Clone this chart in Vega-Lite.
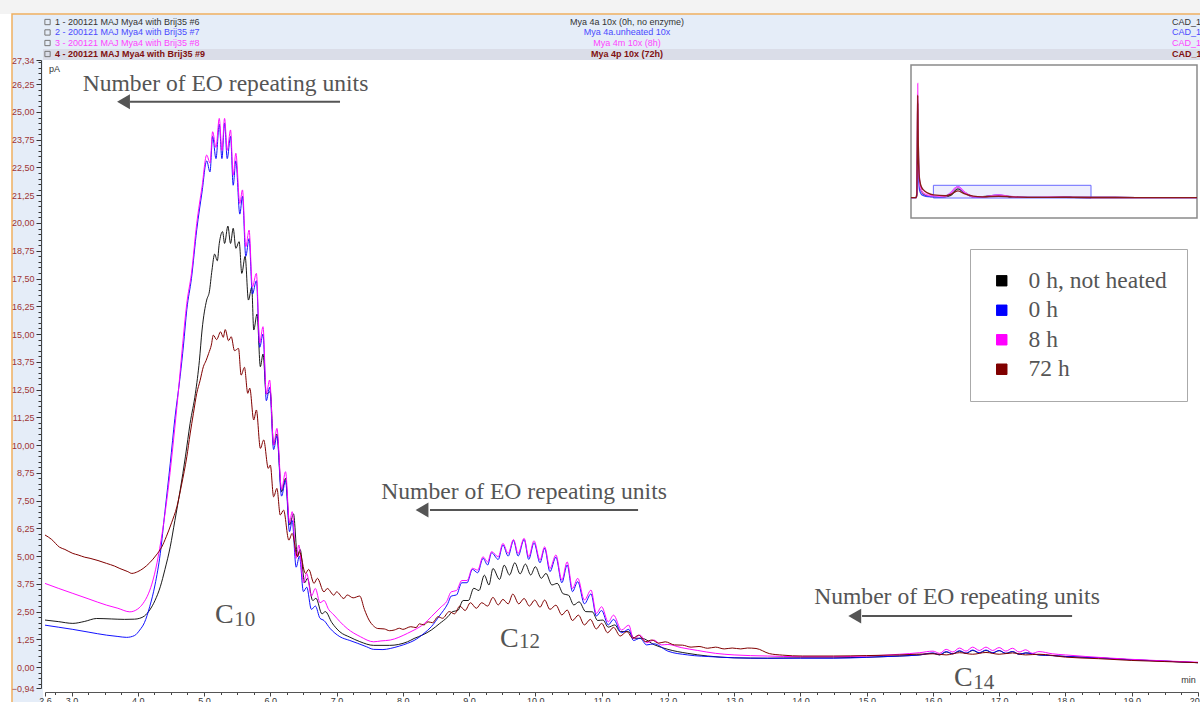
{
"$schema": "https://vega.github.io/schema/vega-lite/v6.json",
"width": 1153, "height": 628,
"autosize": {"type": "none"},
"padding": {"left": 45, "top": 60, "right": 2, "bottom": 14},
"background": "white",
"config": {"view": {"stroke": null}, "axis": {"labelOverlap": false}},
"datasets": {
"main": [
{"s":"a","t":2.6,"v":2.12},{"s":"a","t":2.8,"v":2.05},{"s":"a","t":3.02,"v":1.97},{"s":"a","t":3.2,"v":2.06},{"s":"a","t":3.38,"v":2.19},{"s":"a","t":3.6,"v":2.17},{"s":"a","t":3.8,"v":2.15},{"s":"a","t":3.95,"v":2.16},{"s":"a","t":4.03,"v":2.2},{"s":"a","t":4.1,"v":2.3},{"s":"a","t":4.18,"v":2.57},{"s":"a","t":4.26,"v":3.0},{"s":"a","t":4.34,"v":3.62},{"s":"a","t":4.41,"v":4.4},{"s":"a","t":4.49,"v":5.42},{"s":"a","t":4.56,"v":6.6},{"s":"a","t":4.64,"v":7.97},{"s":"a","t":4.72,"v":9.5},{"s":"a","t":4.79,"v":10.98},{"s":"a","t":4.87,"v":12.33},{"s":"a","t":4.93,"v":13.8},{"s":"a","t":4.97,"v":15.18},{"s":"a","t":5.04,"v":16.53},{"s":"a","t":5.08,"v":16.9},{"s":"a","t":5.12,"v":17.88},{"s":"a","t":5.16,"v":18.6},{"s":"a","t":5.2,"v":18.3},{"s":"a","t":5.23,"v":19.08},{"s":"a","t":5.28,"v":19.61},{"s":"a","t":5.31,"v":19.08},{"s":"a","t":5.36,"v":19.86},{"s":"a","t":5.4,"v":19.08},{"s":"a","t":5.44,"v":19.76},{"s":"a","t":5.48,"v":18.86},{"s":"a","t":5.53,"v":19.16},{"s":"a","t":5.57,"v":17.73},{"s":"a","t":5.62,"v":18.5},{"s":"a","t":5.67,"v":16.53},{"s":"a","t":5.72,"v":17.1},{"s":"a","t":5.75,"v":15.18},{"s":"a","t":5.8,"v":15.9},{"s":"a","t":5.85,"v":13.53},{"s":"a","t":5.89,"v":14.1},{"s":"a","t":5.94,"v":12.3},{"s":"a","t":6.0,"v":12.4},{"s":"a","t":6.05,"v":10.0},{"s":"a","t":6.1,"v":10.5},{"s":"a","t":6.17,"v":7.9},{"s":"a","t":6.23,"v":8.5},{"s":"a","t":6.29,"v":6.4},{"s":"a","t":6.35,"v":6.9},{"s":"a","t":6.41,"v":5.0},{"s":"a","t":6.45,"v":5.3},{"s":"a","t":6.52,"v":3.8},{"s":"a","t":6.56,"v":4.0},{"s":"a","t":6.64,"v":3.0},{"s":"a","t":6.69,"v":3.1},{"s":"a","t":6.78,"v":2.4},{"s":"a","t":6.83,"v":2.5},{"s":"a","t":6.93,"v":2.0},{"s":"a","t":7.05,"v":1.59},{"s":"a","t":7.2,"v":1.35},{"s":"a","t":7.35,"v":1.15},{"s":"a","t":7.56,"v":0.98},{"s":"a","t":7.8,"v":0.98},{"s":"a","t":8.07,"v":1.14},{"s":"a","t":8.17,"v":1.29},{"s":"a","t":8.3,"v":1.45},{"s":"a","t":8.43,"v":1.67},{"s":"a","t":8.55,"v":1.95},{"s":"a","t":8.68,"v":2.27},{"s":"a","t":8.75,"v":2.5},{"s":"a","t":8.83,"v":2.55},{"s":"a","t":8.91,"v":3.0},{"s":"a","t":8.99,"v":3.0},{"s":"a","t":9.07,"v":3.55},{"s":"a","t":9.15,"v":3.45},{"s":"a","t":9.23,"v":4.14},{"s":"a","t":9.3,"v":3.7},{"s":"a","t":9.36,"v":4.44},{"s":"a","t":9.46,"v":3.95},{"s":"a","t":9.53,"v":4.59},{"s":"a","t":9.61,"v":4.15},{"s":"a","t":9.69,"v":4.7},{"s":"a","t":9.77,"v":4.2},{"s":"a","t":9.85,"v":4.64},{"s":"a","t":9.93,"v":4.15},{"s":"a","t":10.0,"v":4.52},{"s":"a","t":10.09,"v":4.0},{"s":"a","t":10.16,"v":4.22},{"s":"a","t":10.25,"v":3.7},{"s":"a","t":10.33,"v":3.77},{"s":"a","t":10.42,"v":3.3},{"s":"a","t":10.5,"v":3.24},{"s":"a","t":10.58,"v":2.8},{"s":"a","t":10.66,"v":2.94},{"s":"a","t":10.76,"v":2.5},{"s":"a","t":10.86,"v":2.49},{"s":"a","t":10.94,"v":2.1},{"s":"a","t":11.02,"v":2.12},{"s":"a","t":11.1,"v":1.8},{"s":"a","t":11.2,"v":1.9},{"s":"a","t":11.28,"v":1.6},{"s":"a","t":11.4,"v":1.6},{"s":"a","t":11.5,"v":1.3},{"s":"a","t":11.6,"v":1.3},{"s":"a","t":11.8,"v":1.0},{"s":"a","t":12.0,"v":0.8},{"s":"a","t":12.3,"v":0.62},{"s":"a","t":12.6,"v":0.5},{"s":"a","t":13.0,"v":0.42},{"s":"a","t":13.5,"v":0.4},{"s":"a","t":14.0,"v":0.42},{"s":"a","t":14.5,"v":0.42},{"s":"a","t":15.0,"v":0.45},{"s":"a","t":15.5,"v":0.5},{"s":"a","t":15.8,"v":0.55},{"s":"a","t":16.0,"v":0.62},{"s":"a","t":16.1,"v":0.55},{"s":"a","t":16.2,"v":0.68},{"s":"a","t":16.3,"v":0.6},{"s":"a","t":16.4,"v":0.72},{"s":"a","t":16.5,"v":0.62},{"s":"a","t":16.6,"v":0.75},{"s":"a","t":16.7,"v":0.64},{"s":"a","t":16.8,"v":0.75},{"s":"a","t":16.9,"v":0.64},{"s":"a","t":17.0,"v":0.74},{"s":"a","t":17.1,"v":0.62},{"s":"a","t":17.2,"v":0.7},{"s":"a","t":17.3,"v":0.58},{"s":"a","t":17.4,"v":0.64},{"s":"a","t":17.6,"v":0.55},{"s":"a","t":17.8,"v":0.52},{"s":"a","t":18.0,"v":0.48},{"s":"a","t":18.5,"v":0.42},{"s":"a","t":19.0,"v":0.33},{"s":"a","t":19.5,"v":0.27},{"s":"a","t":20.0,"v":0.2},
{"s":"b","t":2.6,"v":1.89},{"s":"b","t":2.8,"v":1.8},{"s":"b","t":3.02,"v":1.7},{"s":"b","t":3.25,"v":1.58},{"s":"b","t":3.53,"v":1.44},{"s":"b","t":3.7,"v":1.38},{"s":"b","t":3.83,"v":1.34},{"s":"b","t":3.95,"v":1.42},{"s":"b","t":4.03,"v":1.67},{"s":"b","t":4.1,"v":2.0},{"s":"b","t":4.18,"v":2.72},{"s":"b","t":4.26,"v":3.7},{"s":"b","t":4.34,"v":5.12},{"s":"b","t":4.41,"v":7.0},{"s":"b","t":4.49,"v":9.17},{"s":"b","t":4.56,"v":11.2},{"s":"b","t":4.64,"v":13.1},{"s":"b","t":4.69,"v":14.5},{"s":"b","t":4.74,"v":16.1},{"s":"b","t":4.81,"v":17.5},{"s":"b","t":4.89,"v":19.7},{"s":"b","t":4.97,"v":21.4},{"s":"b","t":5.04,"v":22.8},{"s":"b","t":5.09,"v":22.3},{"s":"b","t":5.13,"v":23.9},{"s":"b","t":5.18,"v":22.9},{"s":"b","t":5.23,"v":24.45},{"s":"b","t":5.27,"v":22.9},{"s":"b","t":5.31,"v":24.5},{"s":"b","t":5.35,"v":22.9},{"s":"b","t":5.4,"v":23.9},{"s":"b","t":5.44,"v":21.7},{"s":"b","t":5.48,"v":22.8},{"s":"b","t":5.54,"v":20.4},{"s":"b","t":5.58,"v":21.2},{"s":"b","t":5.63,"v":18.5},{"s":"b","t":5.68,"v":19.3},{"s":"b","t":5.73,"v":16.8},{"s":"b","t":5.79,"v":17.4},{"s":"b","t":5.84,"v":14.4},{"s":"b","t":5.89,"v":15.0},{"s":"b","t":5.94,"v":12.0},{"s":"b","t":5.99,"v":12.6},{"s":"b","t":6.05,"v":9.8},{"s":"b","t":6.1,"v":10.4},{"s":"b","t":6.17,"v":7.7},{"s":"b","t":6.23,"v":8.4},{"s":"b","t":6.29,"v":6.1},{"s":"b","t":6.33,"v":6.6},{"s":"b","t":6.39,"v":4.5},{"s":"b","t":6.44,"v":5.0},{"s":"b","t":6.5,"v":3.4},{"s":"b","t":6.55,"v":3.6},{"s":"b","t":6.62,"v":2.6},{"s":"b","t":6.68,"v":2.75},{"s":"b","t":6.75,"v":2.2},{"s":"b","t":6.81,"v":2.1},{"s":"b","t":6.9,"v":1.75},{"s":"b","t":7.05,"v":1.37},{"s":"b","t":7.2,"v":1.2},{"s":"b","t":7.32,"v":1.07},{"s":"b","t":7.45,"v":0.92},{"s":"b","t":7.56,"v":0.8},{"s":"b","t":7.7,"v":0.79},{"s":"b","t":7.81,"v":0.84},{"s":"b","t":7.95,"v":0.95},{"s":"b","t":8.07,"v":1.07},{"s":"b","t":8.17,"v":1.2},{"s":"b","t":8.32,"v":1.52},{"s":"b","t":8.43,"v":1.82},{"s":"b","t":8.55,"v":2.3},{"s":"b","t":8.68,"v":2.87},{"s":"b","t":8.73,"v":3.2},{"s":"b","t":8.81,"v":3.25},{"s":"b","t":8.89,"v":3.8},{"s":"b","t":8.97,"v":3.8},{"s":"b","t":9.05,"v":4.4},{"s":"b","t":9.13,"v":4.25},{"s":"b","t":9.21,"v":4.9},{"s":"b","t":9.28,"v":4.6},{"s":"b","t":9.34,"v":5.15},{"s":"b","t":9.44,"v":4.85},{"s":"b","t":9.51,"v":5.5},{"s":"b","t":9.59,"v":5.0},{"s":"b","t":9.67,"v":5.7},{"s":"b","t":9.74,"v":5.0},{"s":"b","t":9.83,"v":5.75},{"s":"b","t":9.9,"v":4.85},{"s":"b","t":9.98,"v":5.6},{"s":"b","t":10.07,"v":4.7},{"s":"b","t":10.14,"v":5.35},{"s":"b","t":10.22,"v":4.3},{"s":"b","t":10.31,"v":4.95},{"s":"b","t":10.4,"v":3.8},{"s":"b","t":10.48,"v":4.6},{"s":"b","t":10.56,"v":3.4},{"s":"b","t":10.64,"v":3.85},{"s":"b","t":10.74,"v":2.85},{"s":"b","t":10.84,"v":3.3},{"s":"b","t":10.92,"v":2.3},{"s":"b","t":11.0,"v":2.55},{"s":"b","t":11.1,"v":1.9},{"s":"b","t":11.18,"v":2.15},{"s":"b","t":11.3,"v":1.55},{"s":"b","t":11.41,"v":1.7},{"s":"b","t":11.48,"v":1.2},{"s":"b","t":11.58,"v":1.3},{"s":"b","t":11.68,"v":1.0},{"s":"b","t":11.79,"v":1.05},{"s":"b","t":12.0,"v":0.72},{"s":"b","t":12.3,"v":0.55},{"s":"b","t":12.72,"v":0.46},{"s":"b","t":13.0,"v":0.42},{"s":"b","t":13.5,"v":0.4},{"s":"b","t":14.0,"v":0.4},{"s":"b","t":14.5,"v":0.4},{"s":"b","t":15.0,"v":0.44},{"s":"b","t":15.5,"v":0.5},{"s":"b","t":15.8,"v":0.55},{"s":"b","t":16.0,"v":0.64},{"s":"b","t":16.1,"v":0.56},{"s":"b","t":16.2,"v":0.7},{"s":"b","t":16.3,"v":0.6},{"s":"b","t":16.4,"v":0.74},{"s":"b","t":16.5,"v":0.63},{"s":"b","t":16.6,"v":0.77},{"s":"b","t":16.7,"v":0.65},{"s":"b","t":16.8,"v":0.77},{"s":"b","t":16.9,"v":0.65},{"s":"b","t":17.0,"v":0.75},{"s":"b","t":17.1,"v":0.62},{"s":"b","t":17.2,"v":0.7},{"s":"b","t":17.3,"v":0.58},{"s":"b","t":17.4,"v":0.64},{"s":"b","t":17.6,"v":0.55},{"s":"b","t":17.8,"v":0.52},{"s":"b","t":18.0,"v":0.48},{"s":"b","t":18.5,"v":0.42},{"s":"b","t":19.0,"v":0.33},{"s":"b","t":19.5,"v":0.27},{"s":"b","t":20.0,"v":0.2},
{"s":"c","t":2.6,"v":3.77},{"s":"c","t":2.8,"v":3.55},{"s":"c","t":3.02,"v":3.32},{"s":"c","t":3.25,"v":3.08},{"s":"c","t":3.53,"v":2.79},{"s":"c","t":3.7,"v":2.65},{"s":"c","t":3.88,"v":2.49},{"s":"c","t":4.0,"v":2.62},{"s":"c","t":4.08,"v":2.87},{"s":"c","t":4.16,"v":3.3},{"s":"c","t":4.23,"v":3.92},{"s":"c","t":4.31,"v":5.0},{"s":"c","t":4.39,"v":6.47},{"s":"c","t":4.47,"v":8.3},{"s":"c","t":4.54,"v":10.23},{"s":"c","t":4.61,"v":12.33},{"s":"c","t":4.67,"v":14.3},{"s":"c","t":4.74,"v":16.38},{"s":"c","t":4.81,"v":17.73},{"s":"c","t":4.89,"v":19.98},{"s":"c","t":4.97,"v":21.64},{"s":"c","t":5.04,"v":23.06},{"s":"c","t":5.09,"v":22.7},{"s":"c","t":5.13,"v":24.11},{"s":"c","t":5.18,"v":23.4},{"s":"c","t":5.23,"v":24.71},{"s":"c","t":5.27,"v":23.27},{"s":"c","t":5.31,"v":24.71},{"s":"c","t":5.35,"v":23.27},{"s":"c","t":5.4,"v":24.19},{"s":"c","t":5.44,"v":22.15},{"s":"c","t":5.48,"v":23.14},{"s":"c","t":5.54,"v":20.88},{"s":"c","t":5.58,"v":21.49},{"s":"c","t":5.63,"v":18.93},{"s":"c","t":5.68,"v":19.68},{"s":"c","t":5.73,"v":17.12},{"s":"c","t":5.79,"v":17.73},{"s":"c","t":5.84,"v":14.6},{"s":"c","t":5.89,"v":15.33},{"s":"c","t":5.94,"v":12.3},{"s":"c","t":5.99,"v":12.93},{"s":"c","t":6.05,"v":10.0},{"s":"c","t":6.1,"v":10.75},{"s":"c","t":6.17,"v":8.0},{"s":"c","t":6.23,"v":8.8},{"s":"c","t":6.29,"v":6.5},{"s":"c","t":6.33,"v":7.0},{"s":"c","t":6.39,"v":4.9},{"s":"c","t":6.43,"v":5.5},{"s":"c","t":6.5,"v":3.8},{"s":"c","t":6.55,"v":4.22},{"s":"c","t":6.62,"v":3.2},{"s":"c","t":6.68,"v":3.54},{"s":"c","t":6.75,"v":2.9},{"s":"c","t":6.81,"v":3.0},{"s":"c","t":6.88,"v":2.6},{"s":"c","t":6.96,"v":2.35},{"s":"c","t":7.05,"v":2.05},{"s":"c","t":7.16,"v":1.74},{"s":"c","t":7.36,"v":1.37},{"s":"c","t":7.56,"v":1.14},{"s":"c","t":7.67,"v":1.18},{"s":"c","t":7.81,"v":1.22},{"s":"c","t":8.07,"v":1.52},{"s":"c","t":8.17,"v":1.67},{"s":"c","t":8.32,"v":1.95},{"s":"c","t":8.43,"v":2.27},{"s":"c","t":8.58,"v":2.72},{"s":"c","t":8.66,"v":2.95},{"s":"c","t":8.73,"v":3.39},{"s":"c","t":8.81,"v":3.45},{"s":"c","t":8.89,"v":3.9},{"s":"c","t":8.97,"v":3.9},{"s":"c","t":9.05,"v":4.45},{"s":"c","t":9.13,"v":4.37},{"s":"c","t":9.21,"v":4.97},{"s":"c","t":9.28,"v":4.74},{"s":"c","t":9.34,"v":5.2},{"s":"c","t":9.44,"v":4.97},{"s":"c","t":9.51,"v":5.57},{"s":"c","t":9.59,"v":5.12},{"s":"c","t":9.67,"v":5.75},{"s":"c","t":9.74,"v":5.12},{"s":"c","t":9.83,"v":5.8},{"s":"c","t":9.9,"v":4.97},{"s":"c","t":9.98,"v":5.69},{"s":"c","t":10.07,"v":4.82},{"s":"c","t":10.14,"v":5.42},{"s":"c","t":10.22,"v":4.44},{"s":"c","t":10.31,"v":5.05},{"s":"c","t":10.4,"v":3.92},{"s":"c","t":10.48,"v":4.74},{"s":"c","t":10.56,"v":3.54},{"s":"c","t":10.64,"v":4.0},{"s":"c","t":10.74,"v":3.02},{"s":"c","t":10.84,"v":3.47},{"s":"c","t":10.92,"v":2.42},{"s":"c","t":11.0,"v":2.72},{"s":"c","t":11.1,"v":2.04},{"s":"c","t":11.18,"v":2.34},{"s":"c","t":11.3,"v":1.67},{"s":"c","t":11.41,"v":1.89},{"s":"c","t":11.48,"v":1.29},{"s":"c","t":11.58,"v":1.44},{"s":"c","t":11.68,"v":1.1},{"s":"c","t":11.79,"v":1.22},{"s":"c","t":11.9,"v":1.0},{"s":"c","t":12.0,"v":1.02},{"s":"c","t":12.2,"v":0.88},{"s":"c","t":12.45,"v":0.75},{"s":"c","t":12.72,"v":0.62},{"s":"c","t":13.0,"v":0.55},{"s":"c","t":13.5,"v":0.5},{"s":"c","t":14.0,"v":0.47},{"s":"c","t":14.5,"v":0.47},{"s":"c","t":15.0,"v":0.5},{"s":"c","t":15.5,"v":0.58},{"s":"c","t":15.8,"v":0.65},{"s":"c","t":16.0,"v":0.72},{"s":"c","t":16.1,"v":0.62},{"s":"c","t":16.2,"v":0.8},{"s":"c","t":16.3,"v":0.68},{"s":"c","t":16.4,"v":0.86},{"s":"c","t":16.5,"v":0.72},{"s":"c","t":16.6,"v":0.9},{"s":"c","t":16.7,"v":0.75},{"s":"c","t":16.8,"v":0.9},{"s":"c","t":16.9,"v":0.75},{"s":"c","t":17.0,"v":0.88},{"s":"c","t":17.1,"v":0.72},{"s":"c","t":17.2,"v":0.85},{"s":"c","t":17.3,"v":0.68},{"s":"c","t":17.4,"v":0.78},{"s":"c","t":17.5,"v":0.62},{"s":"c","t":17.6,"v":0.7},{"s":"c","t":17.8,"v":0.6},{"s":"c","t":18.0,"v":0.55},{"s":"c","t":18.3,"v":0.48},{"s":"c","t":18.6,"v":0.42},{"s":"c","t":19.0,"v":0.35},{"s":"c","t":19.5,"v":0.28},{"s":"c","t":20.0,"v":0.22},
{"s":"d","t":2.6,"v":5.95},{"s":"d","t":2.7,"v":5.75},{"s":"d","t":2.82,"v":5.4},{"s":"d","t":2.9,"v":5.3},{"s":"d","t":3.02,"v":5.12},{"s":"d","t":3.1,"v":5.05},{"s":"d","t":3.2,"v":4.95},{"s":"d","t":3.28,"v":4.9},{"s":"d","t":3.4,"v":4.8},{"s":"d","t":3.53,"v":4.67},{"s":"d","t":3.65,"v":4.55},{"s":"d","t":3.73,"v":4.44},{"s":"d","t":3.85,"v":4.3},{"s":"d","t":3.91,"v":4.22},{"s":"d","t":4.0,"v":4.3},{"s":"d","t":4.08,"v":4.44},{"s":"d","t":4.18,"v":4.7},{"s":"d","t":4.28,"v":5.05},{"s":"d","t":4.36,"v":5.4},{"s":"d","t":4.43,"v":5.87},{"s":"d","t":4.51,"v":6.5},{"s":"d","t":4.59,"v":7.22},{"s":"d","t":4.66,"v":8.2},{"s":"d","t":4.74,"v":9.47},{"s":"d","t":4.79,"v":10.5},{"s":"d","t":4.84,"v":11.43},{"s":"d","t":4.89,"v":12.33},{"s":"d","t":4.94,"v":12.9},{"s":"d","t":4.99,"v":13.53},{"s":"d","t":5.03,"v":13.8},{"s":"d","t":5.07,"v":14.13},{"s":"d","t":5.11,"v":14.5},{"s":"d","t":5.14,"v":14.95},{"s":"d","t":5.19,"v":14.75},{"s":"d","t":5.25,"v":15.1},{"s":"d","t":5.29,"v":14.85},{"s":"d","t":5.32,"v":15.2},{"s":"d","t":5.37,"v":14.7},{"s":"d","t":5.41,"v":14.88},{"s":"d","t":5.46,"v":14.25},{"s":"d","t":5.52,"v":14.35},{"s":"d","t":5.56,"v":13.15},{"s":"d","t":5.61,"v":13.5},{"s":"d","t":5.66,"v":12.33},{"s":"d","t":5.69,"v":12.56},{"s":"d","t":5.75,"v":11.13},{"s":"d","t":5.79,"v":11.58},{"s":"d","t":5.85,"v":9.85},{"s":"d","t":5.9,"v":10.23},{"s":"d","t":5.97,"v":8.95},{"s":"d","t":6.0,"v":9.1},{"s":"d","t":6.05,"v":7.67},{"s":"d","t":6.1,"v":8.05},{"s":"d","t":6.15,"v":6.85},{"s":"d","t":6.2,"v":7.07},{"s":"d","t":6.28,"v":5.72},{"s":"d","t":6.33,"v":6.02},{"s":"d","t":6.41,"v":4.97},{"s":"d","t":6.44,"v":5.2},{"s":"d","t":6.53,"v":4.22},{"s":"d","t":6.58,"v":4.4},{"s":"d","t":6.66,"v":3.77},{"s":"d","t":6.71,"v":4.0},{"s":"d","t":6.81,"v":3.39},{"s":"d","t":6.86,"v":3.54},{"s":"d","t":6.96,"v":3.24},{"s":"d","t":7.0,"v":3.39},{"s":"d","t":7.11,"v":3.09},{"s":"d","t":7.16,"v":3.25},{"s":"d","t":7.25,"v":3.12},{"s":"d","t":7.35,"v":3.2},{"s":"d","t":7.42,"v":2.6},{"s":"d","t":7.49,"v":2.12},{"s":"d","t":7.56,"v":1.85},{"s":"d","t":7.62,"v":1.74},{"s":"d","t":7.72,"v":1.72},{"s":"d","t":7.8,"v":1.64},{"s":"d","t":7.87,"v":1.67},{"s":"d","t":7.95,"v":1.75},{"s":"d","t":8.0,"v":1.7},{"s":"d","t":8.12,"v":1.82},{"s":"d","t":8.2,"v":1.78},{"s":"d","t":8.25,"v":1.95},{"s":"d","t":8.32,"v":1.9},{"s":"d","t":8.38,"v":2.04},{"s":"d","t":8.45,"v":2.0},{"s":"d","t":8.53,"v":2.27},{"s":"d","t":8.6,"v":2.2},{"s":"d","t":8.7,"v":2.5},{"s":"d","t":8.78,"v":2.4},{"s":"d","t":8.86,"v":2.75},{"s":"d","t":8.94,"v":2.55},{"s":"d","t":9.02,"v":2.9},{"s":"d","t":9.11,"v":2.65},{"s":"d","t":9.19,"v":2.9},{"s":"d","t":9.28,"v":2.75},{"s":"d","t":9.36,"v":3.14},{"s":"d","t":9.44,"v":2.8},{"s":"d","t":9.51,"v":3.05},{"s":"d","t":9.59,"v":2.85},{"s":"d","t":9.66,"v":3.29},{"s":"d","t":9.75,"v":2.85},{"s":"d","t":9.83,"v":3.09},{"s":"d","t":9.91,"v":2.75},{"s":"d","t":9.99,"v":3.02},{"s":"d","t":10.07,"v":2.7},{"s":"d","t":10.14,"v":3.02},{"s":"d","t":10.22,"v":2.6},{"s":"d","t":10.31,"v":2.79},{"s":"d","t":10.4,"v":2.35},{"s":"d","t":10.48,"v":2.57},{"s":"d","t":10.56,"v":2.1},{"s":"d","t":10.65,"v":2.34},{"s":"d","t":10.74,"v":1.9},{"s":"d","t":10.83,"v":2.15},{"s":"d","t":10.92,"v":1.72},{"s":"d","t":11.0,"v":1.97},{"s":"d","t":11.09,"v":1.55},{"s":"d","t":11.18,"v":1.79},{"s":"d","t":11.28,"v":1.4},{"s":"d","t":11.38,"v":1.6},{"s":"d","t":11.47,"v":1.3},{"s":"d","t":11.56,"v":1.44},{"s":"d","t":11.66,"v":1.15},{"s":"d","t":11.76,"v":1.22},{"s":"d","t":11.86,"v":1.08},{"s":"d","t":11.96,"v":1.14},{"s":"d","t":12.1,"v":1.0},{"s":"d","t":12.22,"v":0.99},{"s":"d","t":12.35,"v":0.9},{"s":"d","t":12.47,"v":0.93},{"s":"d","t":12.6,"v":0.85},{"s":"d","t":12.72,"v":0.9},{"s":"d","t":12.85,"v":0.82},{"s":"d","t":12.97,"v":0.86},{"s":"d","t":13.1,"v":0.82},{"s":"d","t":13.2,"v":0.86},{"s":"d","t":13.33,"v":0.84},{"s":"d","t":13.53,"v":0.61},{"s":"d","t":13.73,"v":0.54},{"s":"d","t":14.03,"v":0.5},{"s":"d","t":14.5,"v":0.5},{"s":"d","t":15.0,"v":0.52},{"s":"d","t":15.5,"v":0.55},{"s":"d","t":16.0,"v":0.6},{"s":"d","t":16.2,"v":0.55},{"s":"d","t":16.4,"v":0.65},{"s":"d","t":16.6,"v":0.58},{"s":"d","t":16.8,"v":0.66},{"s":"d","t":17.0,"v":0.58},{"s":"d","t":17.2,"v":0.64},{"s":"d","t":17.4,"v":0.55},{"s":"d","t":17.6,"v":0.58},{"s":"d","t":18.0,"v":0.45},{"s":"d","t":18.5,"v":0.38},{"s":"d","t":19.0,"v":0.3},{"s":"d","t":19.5,"v":0.25},{"s":"d","t":20.0,"v":0.2}
],
"inset": [
{"s":"a","t":0.13,"v":0},{"s":"a","t":0.7,"v":0},{"s":"a","t":0.78,"v":10},{"s":"a","t":0.85,"v":160},{"s":"a","t":0.88,"v":210},{"s":"a","t":0.92,"v":140},{"s":"a","t":1.0,"v":60},{"s":"a","t":1.1,"v":30},{"s":"a","t":1.3,"v":14},{"s":"a","t":1.6,"v":7},{"s":"a","t":2.0,"v":4},{"s":"a","t":2.6,"v":2.1},{"s":"a","t":3.9,"v":2.1},{"s":"a","t":4.5,"v":5},{"s":"a","t":5.3,"v":19.5},{"s":"a","t":6.0,"v":12},{"s":"a","t":7.0,"v":1.6},{"s":"a","t":7.6,"v":1},{"s":"a","t":9.8,"v":4.7},{"s":"a","t":11,"v":2},{"s":"a","t":12,"v":0.8},{"s":"a","t":14,"v":0.4},{"s":"a","t":17,"v":0.7},{"s":"a","t":20,"v":0.2},{"s":"a","t":25,"v":0},{"s":"a","t":31.7,"v":0},
{"s":"b","t":0.13,"v":0},{"s":"b","t":0.7,"v":0},{"s":"b","t":0.8,"v":10},{"s":"b","t":0.87,"v":120},{"s":"b","t":0.92,"v":90},{"s":"b","t":1.0,"v":35},{"s":"b","t":1.1,"v":15},{"s":"b","t":1.3,"v":7},{"s":"b","t":1.6,"v":4},{"s":"b","t":2.0,"v":2.5},{"s":"b","t":2.6,"v":1.9},{"s":"b","t":3.8,"v":1.3},{"s":"b","t":4.5,"v":10},{"s":"b","t":5.3,"v":24},{"s":"b","t":6.0,"v":12},{"s":"b","t":7.0,"v":1.4},{"s":"b","t":7.6,"v":0.8},{"s":"b","t":9.8,"v":5.7},{"s":"b","t":11,"v":2.5},{"s":"b","t":12,"v":0.7},{"s":"b","t":14,"v":0.4},{"s":"b","t":17,"v":0.7},{"s":"b","t":20,"v":0.2},{"s":"b","t":25,"v":0},{"s":"b","t":31.7,"v":0},
{"s":"c","t":0.13,"v":0},{"s":"c","t":0.7,"v":0},{"s":"c","t":0.78,"v":10},{"s":"c","t":0.84,"v":170},{"s":"c","t":0.87,"v":254},{"s":"c","t":0.9,"v":180},{"s":"c","t":0.95,"v":95},{"s":"c","t":1.05,"v":40},{"s":"c","t":1.2,"v":20},{"s":"c","t":1.5,"v":10},{"s":"c","t":2.0,"v":5.5},{"s":"c","t":2.6,"v":3.8},{"s":"c","t":3.9,"v":2.5},{"s":"c","t":4.5,"v":10},{"s":"c","t":5.3,"v":24},{"s":"c","t":6.0,"v":13},{"s":"c","t":7.0,"v":2},{"s":"c","t":8,"v":1.5},{"s":"c","t":9.8,"v":5.7},{"s":"c","t":11,"v":2.7},{"s":"c","t":12,"v":1},{"s":"c","t":14,"v":0.5},{"s":"c","t":17,"v":0.8},{"s":"c","t":20,"v":0.2},{"s":"c","t":25,"v":0},{"s":"c","t":31.7,"v":0},
{"s":"d","t":0.13,"v":0},{"s":"d","t":0.7,"v":0},{"s":"d","t":0.78,"v":10},{"s":"d","t":0.84,"v":150},{"s":"d","t":0.87,"v":228},{"s":"d","t":0.9,"v":170},{"s":"d","t":0.95,"v":90},{"s":"d","t":1.05,"v":45},{"s":"d","t":1.2,"v":28},{"s":"d","t":1.5,"v":17},{"s":"d","t":2.0,"v":10},{"s":"d","t":2.6,"v":6},{"s":"d","t":3.9,"v":4.2},{"s":"d","t":4.5,"v":7},{"s":"d","t":5.3,"v":15},{"s":"d","t":6.0,"v":9},{"s":"d","t":7.0,"v":3.3},{"s":"d","t":8,"v":1.7},{"s":"d","t":9.8,"v":3},{"s":"d","t":11,"v":2},{"s":"d","t":12,"v":1},{"s":"d","t":14,"v":0.5},{"s":"d","t":17,"v":0.6},{"s":"d","t":20,"v":0.2},{"s":"d","t":25,"v":0},{"s":"d","t":31.7,"v":0}
],
"hdr": [
{"r":1,"c":"L","txt":"1 - 200121 MAJ Mya4 with Brij35 #6","t":2.751,"v":29.05},
{"r":1,"c":"C","txt":"Mya 4a 10x (0h, no enzyme)","t":11.383,"v":29.05},
{"r":1,"c":"R","txt":"CAD_1","t":19.608,"v":29.05},
{"r":2,"c":"L","txt":"2 - 200121 MAJ Mya4 with Brij35 #7","t":2.751,"v":28.58},
{"r":2,"c":"C","txt":"Mya 4a.unheated 10x","t":11.383,"v":28.58},
{"r":2,"c":"R","txt":"CAD_1","t":19.608,"v":28.58},
{"r":3,"c":"L","txt":"3 - 200121 MAJ Mya4 with Brij35 #8","t":2.751,"v":28.105},
{"r":3,"c":"C","txt":"Mya 4m 10x (8h)","t":11.383,"v":28.105},
{"r":3,"c":"R","txt":"CAD_1","t":19.608,"v":28.105},
{"r":4,"c":"L","txt":"4 - 200121 MAJ Mya4 with Brij35 #9","t":2.751,"v":27.61},
{"r":4,"c":"C","txt":"Mya 4p 10x (72h)","t":11.383,"v":27.61},
{"r":4,"c":"R","txt":"CAD_1","t":19.608,"v":27.61}
]
},
"layer": [
{
"layer": [
{"data": {"values": [{"t0": 1.3, "t1": 20.2, "v0": 29.41, "v1": 30.1}]}, "mark": {"type": "rect", "fill": "#f3f3f3"}, "encoding": {"x": {"field": "t0", "type": "quantitative"}, "x2": {"field": "t1"}, "y": {"field": "v0", "type": "quantitative"}, "y2": {"field": "v1"}}},
{"data": {"values": [{"t0": 2.102, "t1": 20.2, "v0": 27.34, "v1": 29.41}, {"t0": 2.102, "t1": 2.57, "v0": -1.8, "v1": 27.34}]}, "mark": {"type": "rect", "fill": "#e5edf8"}, "encoding": {"x": {"field": "t0", "type": "quantitative"}, "x2": {"field": "t1"}, "y": {"field": "v0", "type": "quantitative"}, "y2": {"field": "v1"}}},
{"data": {"values": [{"t0": 2.57, "t1": 20.2, "v0": 27.34, "v1": 27.835}]}, "mark": {"type": "rect", "fill": "#dadde8"}, "encoding": {"x": {"field": "t0", "type": "quantitative"}, "x2": {"field": "t1"}, "y": {"field": "v0", "type": "quantitative"}, "y2": {"field": "v1"}}},
{"data": {"values": [{"t0": 2.102, "t1": 20.3, "v0": -2.0, "v1": 29.41}]}, "mark": {"type": "rect", "filled": false, "stroke": "#efb060", "strokeWidth": 1.5}, "encoding": {"x": {"field": "t0", "type": "quantitative"}, "x2": {"field": "t1"}, "y": {"field": "v0", "type": "quantitative"}, "y2": {"field": "v1"}}},
{"mark": {"type": "rule", "color": "#222", "strokeWidth": 2}, "encoding": {"x": {"datum": 2.57, "type": "quantitative"}, "x2": {"datum": 20.2}, "y": {"datum": 27.34, "type": "quantitative"}}},
{"mark": {"type": "rule", "color": "#999", "strokeWidth": 2}, "encoding": {"x": {"datum": 2.6, "type": "quantitative"}}},
{"mark": {"type": "rule", "color": "#999", "strokeWidth": 2.5}, "encoding": {"y": {"datum": -0.94, "type": "quantitative"}}},
{
"data": {"name": "main"},
"mark": {"type": "line", "interpolate": "monotone", "strokeJoin": "round"},
"encoding": {
"x": {"field": "t", "type": "quantitative", "scale": {"domain": [2.6, 20], "nice": false, "zero": false},
"axis": {"title": null, "grid": false, "offset": 4, "zindex": 2, "tickCount": 1000, "values": [2.6,2.75,3,3.25,3.5,3.75,4,4.25,4.5,4.75,5,5.25,5.5,5.75,6,6.25,6.5,6.75,7,7.25,7.5,7.75,8,8.25,8.5,8.75,9,9.25,9.5,9.75,10,10.25,10.5,10.75,11,11.25,11.5,11.75,12,12.25,12.5,12.75,13,13.25,13.5,13.75,14,14.25,14.5,14.75,15,15.25,15.5,15.75,16,16.25,16.5,16.75,17,17.25,17.5,17.75,18,18.25,18.5,18.75,19,19.25,19.5,19.75,20],
"labelExpr": "(abs(datum.value - round(datum.value)) < 0.001 || datum.value == 2.6) ? format(datum.value, '.1f') : ''",
"tickSize": {"condition": {"test": "abs(datum.value - round(datum.value)) < 0.001 || datum.value == 2.6", "value": 4}, "value": 2.5},
"labelFontSize": {"condition": {"test": "abs(datum.value - round(datum.value)) < 0.001 || datum.value == 2.6", "value": 9}, "value": 0},
"labelFlush": false, "labelOverlap": false, "labelPadding": 0, "labelFont": "Liberation Sans", "labelColor": "#333", "domainColor": "#555", "tickColor": "#444"}},
"y": {"field": "v", "type": "quantitative", "scale": {"domain": [-0.94, 27.34], "nice": false, "zero": false},
"axis": {"title": null, "grid": false, "offset": 4, "zindex": 2, "tickCount": 1000, "values": [-0.94,-0.75,-0.5,-0.25,0,0.25,0.5,0.75,1,1.25,1.5,1.75,2,2.25,2.5,2.75,3,3.25,3.5,3.75,4,4.25,4.5,4.75,5,5.25,5.5,5.75,6,6.25,6.5,6.75,7,7.25,7.5,7.75,8,8.25,8.5,8.75,9,9.25,9.5,9.75,10,10.25,10.5,10.75,11,11.25,11.5,11.75,12,12.25,12.5,12.75,13,13.25,13.5,13.75,14,14.25,14.5,14.75,15,15.25,15.5,15.75,16,16.25,16.5,16.75,17,17.25,17.5,17.75,18,18.25,18.5,18.75,19,19.25,19.5,19.75,20,20.25,20.5,20.75,21,21.25,21.5,21.75,22,22.25,22.5,22.75,23,23.25,23.5,23.75,24,24.25,24.5,24.75,25,25.25,25.5,25.75,26,26.25,26.5,26.75,27,27.25,27.34],
"labelExpr": "(abs(datum.value/1.25 - round(datum.value/1.25)) < 0.001 || datum.value == -0.94 || datum.value == 27.34) ? replace(format(datum.value, '.2f'), '.', ',') : ''",
"tickSize": {"condition": {"test": "abs(datum.value/1.25 - round(datum.value/1.25)) < 0.001 || datum.value == -0.94 || datum.value == 27.34", "value": 5}, "value": 3},
"labelFontSize": {"condition": {"test": "abs(datum.value/1.25 - round(datum.value/1.25)) < 0.001 || datum.value == -0.94 || datum.value == 27.34", "value": 9}, "value": 0},
"labelFlush": false, "labelOverlap": false, "labelPadding": 2, "labelFont": "Liberation Sans", "labelColor": "#9e3535", "domainColor": "#444", "tickColor": "#333"}},
"color": {"field": "s", "type": "nominal", "scale": {"domain": ["a", "b", "c", "d"], "range": ["#000000", "#0000ff", "#ff00ff", "#800000"]},
"legend": {"title": null, "orient": "none", "legendX": 925, "legendY": 189, "direction": "vertical", "symbolType": "square", "symbolSize": 110, "symbolOffset": 0, "symbolStrokeWidth": 0, "labelFont": "Liberation Serif", "labelFontSize": 23.5, "labelColor": "#555", "labelOffset": 15, "rowPadding": 4.5, "padding": 20, "strokeColor": "#aaaaaa", "fillColor": "white", "labelLimit": 300,
"labelExpr": "datum.label == 'a' ? '0 h, not heated' : datum.label == 'b' ? '0 h' : datum.label == 'c' ? '8 h' : '72 h'",
"encode": {"symbols": {"update": {"fill": {"scale": "color", "field": "value"}, "stroke": {"value": "transparent"}, "opacity": {"value": 1}}}}}},
"strokeWidth": {"field": "s", "type": "nominal", "scale": {"domain": ["a", "b", "c", "d"], "range": [0.9, 1, 1.3, 2.3]}, "legend": null}
}
},
{"data": {"values": [{"t": 5.324, "v": 25.94, "txt": "Number of EO repeating units"}, {"t": 9.829, "v": 7.57, "txt": "Number of EO repeating units"}, {"t": 16.363, "v": 2.84, "txt": "Number of EO repeating units"}]},
"mark": {"type": "text", "font": "Liberation Serif", "fontSize": 23.6, "color": "#555", "align": "center", "baseline": "alphabetic"},
"encoding": {"x": {"field": "t", "type": "quantitative"}, "y": {"field": "v", "type": "quantitative"}, "text": {"field": "txt"}}},
{"data": {"values": [{"t0": 3.883, "t1": 7.052, "v": 25.46}, {"t0": 8.41, "t1": 11.55, "v": 7.076}, {"t0": 14.93, "t1": 18.1, "v": 2.3}]},
"mark": {"type": "rule", "color": "#555", "strokeWidth": 2},
"encoding": {"x": {"field": "t0", "type": "quantitative"}, "x2": {"field": "t1"}, "y": {"field": "v", "type": "quantitative"}}},
{"data": {"values": [{"t": 3.785, "v": 25.46}, {"t": 8.29, "v": 7.076}, {"t": 14.82, "v": 2.3}]},
"mark": {"type": "point", "shape": "triangle-left", "filled": true, "color": "#555", "size": 220, "opacity": 1},
"encoding": {"x": {"field": "t", "type": "quantitative"}, "y": {"field": "v", "type": "quantitative"}}},
{"data": {"values": [{"t": 5.165, "v": 1.975, "txt": "C"}, {"t": 9.466, "v": 0.897, "txt": "C"}, {"t": 16.318, "v": -0.85, "txt": "C"}]},
"mark": {"type": "text", "font": "Liberation Serif", "fontSize": 28, "color": "#555", "align": "left", "baseline": "alphabetic"},
"encoding": {"x": {"field": "t", "type": "quantitative"}, "y": {"field": "v", "type": "quantitative"}, "text": {"field": "txt"}}},
{"data": {"values": [{"t": 5.455, "v": 1.853, "txt": "10"}, {"t": 9.755, "v": 0.84, "txt": "12"}, {"t": 16.607, "v": -0.985, "txt": "14"}]},
"mark": {"type": "text", "font": "Liberation Serif", "fontSize": 21, "color": "#555", "align": "left", "baseline": "alphabetic"},
"encoding": {"x": {"field": "t", "type": "quantitative"}, "y": {"field": "v", "type": "quantitative"}, "text": {"field": "txt"}}},
{"data": {"values": [{"t": 2.66, "v": 26.8, "txt": "pA"}]},
"mark": {"type": "text", "font": "Liberation Sans", "fontSize": 9, "color": "#333", "align": "left", "baseline": "alphabetic"},
"encoding": {"x": {"field": "t", "type": "quantitative"}, "y": {"field": "v", "type": "quantitative"}, "text": {"field": "txt"}}},
{"data": {"values": [{"t": 19.967, "v": -0.715, "txt": "min"}]},
"mark": {"type": "text", "font": "Liberation Sans", "fontSize": 9, "color": "#333", "align": "right", "baseline": "alphabetic"},
"encoding": {"x": {"field": "t", "type": "quantitative"}, "y": {"field": "v", "type": "quantitative"}, "text": {"field": "txt"}}},
{"data": {"name": "hdr"}, "transform": [{"filter": "datum.c == 'L'"}],
"mark": {"type": "point", "shape": "square", "filled": false, "stroke": "#777", "strokeWidth": 1, "size": 28, "opacity": 1},
"encoding": {"x": {"datum": 2.638, "type": "quantitative"}, "y": {"field": "v", "type": "quantitative"}}},
{"data": {"name": "hdr"}, "transform": [{"filter": "datum.c != 'C' && datum.r != 4"}],
"mark": {"type": "text", "font": "Liberation Sans", "fontSize": 9, "align": "left", "baseline": "middle"},
"encoding": {"x": {"field": "t", "type": "quantitative"}, "y": {"field": "v", "type": "quantitative"}, "text": {"field": "txt"}, "fill": {"field": "r", "type": "nominal", "scale": {"domain": [1, 2, 3, 4], "range": ["#333333", "#4a4aff", "#ff44ff", "#801010"]}, "legend": null}}},
{"data": {"name": "hdr"}, "transform": [{"filter": "datum.c == 'C' && datum.r != 4"}],
"mark": {"type": "text", "font": "Liberation Sans", "fontSize": 9, "align": "center", "baseline": "middle"},
"encoding": {"x": {"field": "t", "type": "quantitative"}, "y": {"field": "v", "type": "quantitative"}, "text": {"field": "txt"}, "fill": {"field": "r", "type": "nominal", "legend": null}}},
{"data": {"name": "hdr"}, "transform": [{"filter": "datum.c != 'C' && datum.r == 4"}],
"mark": {"type": "text", "font": "Liberation Sans", "fontSize": 9, "fontWeight": "bold", "align": "left", "baseline": "middle"},
"encoding": {"x": {"field": "t", "type": "quantitative"}, "y": {"field": "v", "type": "quantitative"}, "text": {"field": "txt"}, "fill": {"field": "r", "type": "nominal", "legend": null}}},
{"data": {"name": "hdr"}, "transform": [{"filter": "datum.c == 'C' && datum.r == 4"}],
"mark": {"type": "text", "font": "Liberation Sans", "fontSize": 9, "fontWeight": "bold", "align": "center", "baseline": "middle"},
"encoding": {"x": {"field": "t", "type": "quantitative"}, "y": {"field": "v", "type": "quantitative"}, "text": {"field": "txt"}, "fill": {"field": "r", "type": "nominal", "legend": null}}}
]
},
{
"layer": [
{"data": {"values": [{"t0": 0.13, "t1": 31.7, "v0": -45.4, "v1": 295}]},
"mark": {"type": "rect", "fill": "white", "stroke": "#8a8a8a", "strokeWidth": 1.5},
"encoding": {"x": {"field": "t0", "type": "quantitative", "scale": {"domain": [0.13, 31.7], "range": [866, 1152], "nice": false, "zero": false}, "axis": null}, "x2": {"field": "t1"}, "y": {"field": "v0", "type": "quantitative", "scale": {"domain": [-45.4, 295], "range": [158, 5], "nice": false, "zero": false}, "axis": null}, "y2": {"field": "v1"}}},
{"data": {"values": [{"t0": 2.6, "t1": 20, "v0": -0.94, "v1": 27.34}]},
"mark": {"type": "rect", "fill": "#eeeefd", "stroke": "#6a6aff", "strokeWidth": 1},
"encoding": {"x": {"field": "t0", "type": "quantitative"}, "x2": {"field": "t1"}, "y": {"field": "v0", "type": "quantitative"}, "y2": {"field": "v1"}}},
{"data": {"name": "inset"},
"mark": {"type": "line", "interpolate": "monotone", "strokeWidth": 1.4},
"encoding": {"x": {"field": "t", "type": "quantitative"}, "y": {"field": "v", "type": "quantitative"}, "stroke": {"field": "s", "type": "nominal", "scale": {"domain": ["a", "b", "c", "d"], "range": ["#333333", "#4040ff", "#ff55ff", "#8b1a1a"]}, "legend": null}}}
]
}
],
"resolve": {"scale": {"x": "independent", "y": "independent"}}
}
